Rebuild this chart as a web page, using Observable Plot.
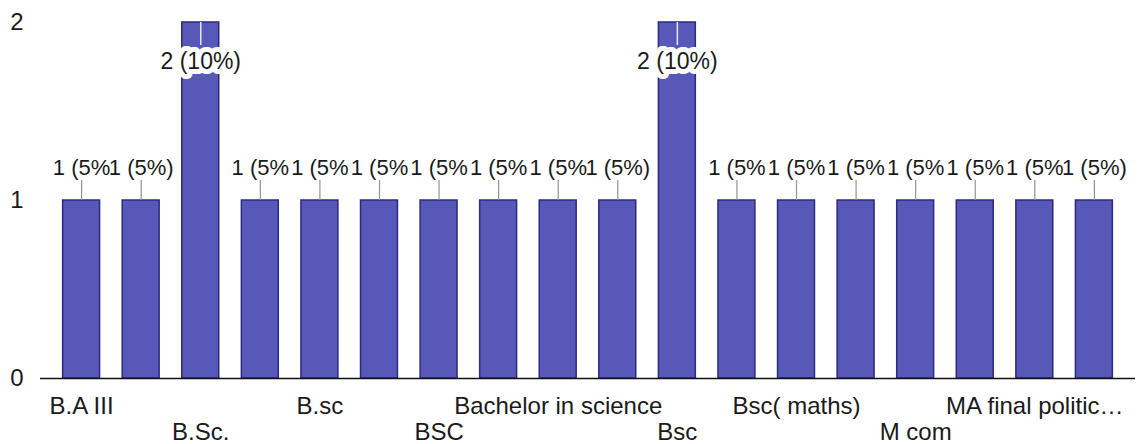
<!DOCTYPE html>
<html>
<head>
<meta charset="utf-8">
<script src="https://cdn.jsdelivr.net/npm/d3@7"></script>
<script src="https://cdn.jsdelivr.net/npm/@observablehq/plot@0.6"></script>
<style>
  html, body { margin: 0; padding: 0; background: #fff; }
  #chart svg { display: block; overflow: visible; }
</style>
</head>
<body>
<div id="chart"></div>
<script>
// Category labels (only every other one is shown on the axis in the reference)
const categories = [
  "B.A III", "", "B.Sc.", "", "B.sc", "", "BSC", "",
  "Bachelor in science", "", "Bsc", "", "Bsc( maths)", "",
  "M com", "", "MA final politic…", ""
];
// Response counts per category
const counts = [1, 1, 2, 1, 1, 1, 1, 1, 1, 1, 2, 1, 1, 1, 1, 1, 1, 1];
const totalResponses = 20;
const yTicks = [0, 1, 2];
const axisRow1 = [0, 4, 8, 12, 16];
const axisRow2 = [2, 6, 10, 14];

const rows = categories.map((c, i) => {
  const full = `${counts[i]} (${Math.round(counts[i] / totalResponses * 100)}%)`;
  // like the source chart, a label is clipped when the next label sits at the same height
  const clipped = i < counts.length - 1 && counts[i + 1] === counts[i];
  return { i, category: c, n: counts[i], label: clipped ? full.slice(0, -1) : full };
});

const W = 1139, H = 444;
const mTop = 22, mBottom = 66, mLeft = 40, mRight = 4;
const pxPerUnit = (H - mTop - mBottom) / 2;
const leadUp = 20 / pxPerUnit;     // leader line above short bars
const leadDown = 23 / pxPerUnit;   // leader line inside tall bars
const maxN = d3.max(counts);
const shortRows = rows.filter(d => d.n < maxN);
const tallRows = rows.filter(d => d.n === maxN);

const font = "'Liberation Sans', Arial, sans-serif";

const chart = Plot.plot({
  width: W,
  height: H,
  marginTop: mTop,
  marginBottom: mBottom,
  marginLeft: mLeft,
  marginRight: mRight,
  style: { fontFamily: font, color: "#1a1a1a", background: "#fff" },
  x: { type: "band", domain: d3.range(categories.length), padding: 0.38, round: false, axis: null },
  y: { domain: [0, 2], axis: null },
  marks: [
    Plot.barY(rows, { x: "i", y: "n", fill: "#5858b8", stroke: "#2a2a82", strokeWidth: 1.5 }),
    Plot.ruleY([0], { stroke: "#111", strokeWidth: 1.5 }),
    // leader lines above short bars
    Plot.ruleX(shortRows, { x: "i", y1: "n", y2: d => d.n + leadUp, stroke: "#9a9090", strokeWidth: 1.2 }),
    // labels above short bars
    Plot.text(shortRows, {
      x: "i", y: "n", text: "label", dy: -33, lineAnchor: "middle",
      fontSize: 22, fill: "#1a1a1a"
    }),
    // leader lines inside tall bars
    Plot.ruleX(tallRows, { x: "i", y1: "n", y2: d => d.n - leadDown, stroke: "#e8e8f4", strokeWidth: 1.5 }),
    // labels inside tall bars with white backing
    Plot.text(tallRows, {
      x: "i", y: "n", text: "label", dy: 39, lineAnchor: "middle",
      fontSize: 23, fill: "#1a1a1a", stroke: "#fff", strokeWidth: 10
    }),
    Plot.axisY({
      ticks: yTicks, tickSize: 0, tickPadding: 17, fontSize: 24,
      tickFormat: d3.format("d"), label: null
    }),
    Plot.axisX({
      ticks: axisRow1, tickSize: 0, tickPadding: 18, fontSize: 24,
      tickFormat: i => categories[i], label: null
    }),
    Plot.axisX({
      ticks: axisRow2, tickSize: 0, tickPadding: 44, fontSize: 24,
      tickFormat: i => categories[i], label: null
    })
  ]
});

document.getElementById("chart").appendChild(chart);
</script>
</body>
</html>
